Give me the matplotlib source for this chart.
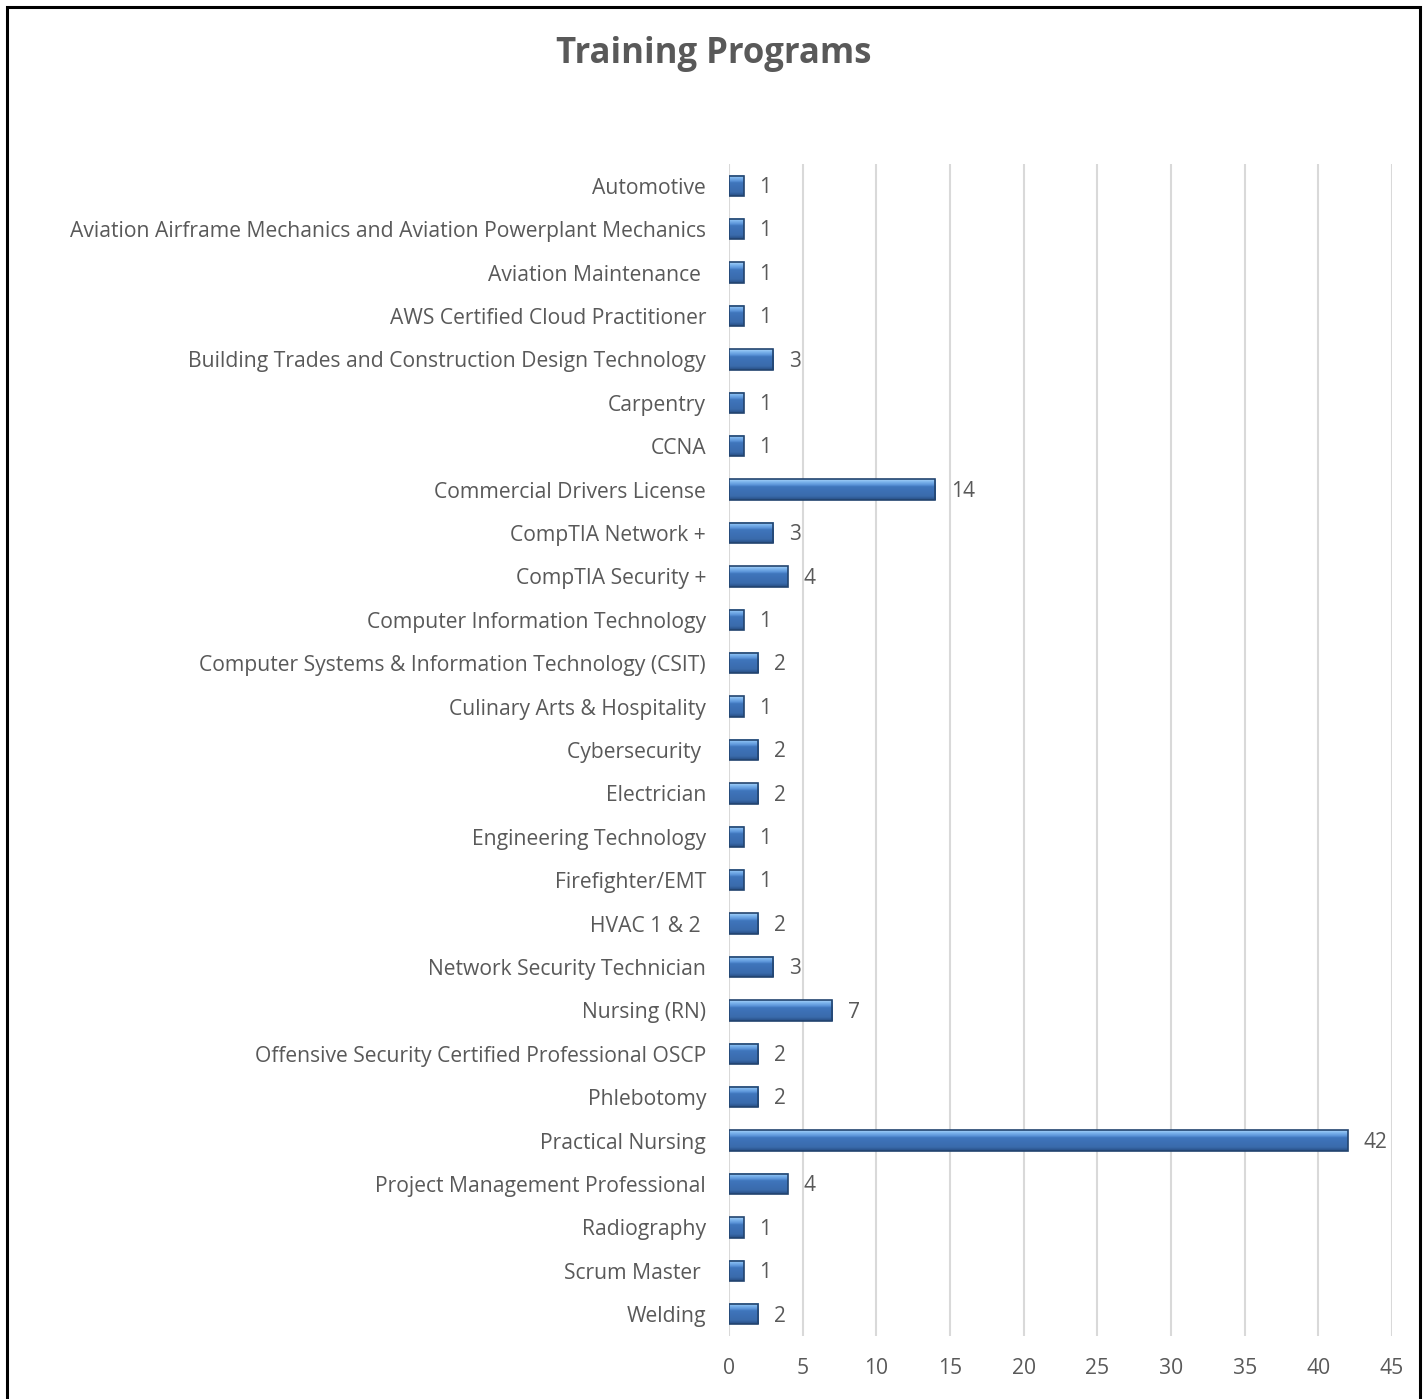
import matplotlib
matplotlib.use("Agg")
import matplotlib.pyplot as plt
import numpy as np
from matplotlib.patches import Rectangle
from matplotlib.colors import LinearSegmentedColormap

programs = [
    "Automotive",
    "Aviation Airframe Mechanics and Aviation Powerplant Mechanics",
    "Aviation Maintenance ",
    "AWS Certified Cloud Practitioner",
    "Building Trades and Construction Design Technology",
    "Carpentry",
    "CCNA",
    "Commercial Drivers License",
    "CompTIA Network +",
    "CompTIA Security +",
    "Computer Information Technology",
    "Computer Systems & Information Technology (CSIT)",
    "Culinary Arts & Hospitality",
    "Cybersecurity ",
    "Electrician",
    "Engineering Technology",
    "Firefighter/EMT",
    "HVAC 1 & 2 ",
    "Network Security Technician",
    "Nursing (RN)",
    "Offensive Security Certified Professional OSCP",
    "Phlebotomy",
    "Practical Nursing",
    "Project Management Professional",
    "Radiography",
    "Scrum Master ",
    "Welding",
]
counts = [1, 1, 1, 1, 3, 1, 1, 14, 3, 4, 1, 2, 1, 2, 2, 1, 1, 2, 3, 7, 2, 2, 42, 4, 1, 1, 2]
x_ticks = [0, 5, 10, 15, 20, 25, 30, 35, 40, 45]

plt.rcParams['font.family'] = ['Open Sans', 'DejaVu Sans']
text_color = "#595959"

fig = plt.figure(figsize=(14.27, 13.99), dpi=100)
ax = fig.add_axes([729 / 1427, 1 - 1336 / 1399, (1392 - 729) / 1427, (1336 - 164) / 1399])

ypos = list(range(len(programs)))
h = 0.47
bars = ax.barh(ypos, counts, height=h, color="none", edgecolor="#22446F",
               linewidth=1.2, zorder=4)

# bevel-like vertical gradient inside each bar (top light -> mid -> darker bottom)
bevel = LinearSegmentedColormap.from_list(
    "bevel", [(0.0, "#A9D3F8"), (0.12, "#7FB6EE"), (0.28, "#5A93D8"), (0.36, "#3F75BC"),
              (0.82, "#3A6BAC"), (1.0, "#274C82")])
grad = np.linspace(0, 1, 64).reshape(-1, 1)
for b in bars:
    x0, y0 = b.get_x(), b.get_y()
    im = ax.imshow(grad, cmap=bevel, vmin=0, vmax=1, aspect="auto", interpolation="bilinear",
                   extent=(x0, x0 + b.get_width(), y0 + b.get_height(), y0), zorder=3.5)

for y, v in zip(ypos, counts):
    ax.text(v + 1.05, y + 0.04, str(v), va="center", ha="left", fontsize=15, color=text_color)

ax.set_xlim(0, 45)
ax.set_ylim(len(programs) - 0.5, -0.5)
ax.set_aspect("auto")
ax.set_xticks(x_ticks)
ax.set_yticks(ypos)
ax.set_yticklabels(programs)
ax.tick_params(axis="both", length=0, labelsize=15.2, labelcolor=text_color)
ax.tick_params(axis="y", pad=16.5)
ax.tick_params(axis="x", pad=16)
ax.grid(axis="x", color="#D9D9D9", linewidth=1.5, zorder=0)
ax.set_axisbelow(True)
for s in ax.spines.values():
    s.set_visible(False)

fig.text(714 / 1427, 1 - 54 / 1399, "Training Programs", ha="center", va="center",
         fontsize=25, fontweight="bold", color=text_color)

fig.patches.append(Rectangle((7 / 1427, -0.05), (1420 - 7) / 1427, 1.05 - 7 / 1399,
                             transform=fig.transFigure, fill=False,
                             edgecolor="black", linewidth=2.2))

fig.savefig("out.png", dpi=100)
